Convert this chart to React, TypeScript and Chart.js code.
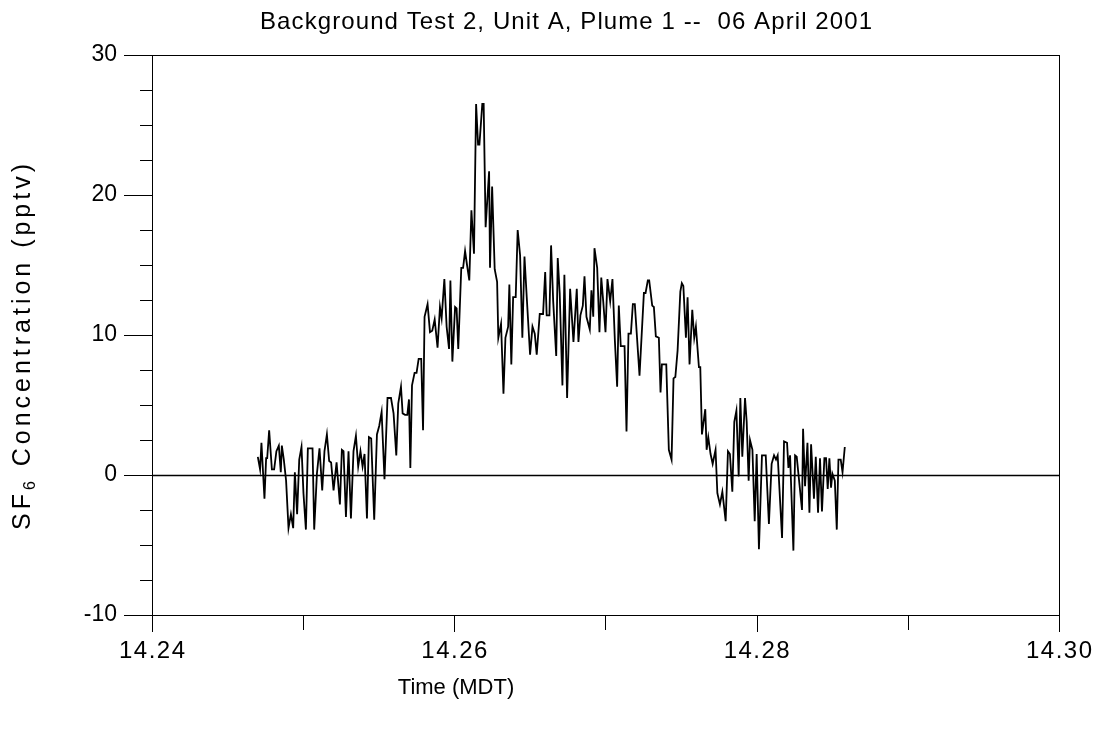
import React, { useEffect, useRef } from "react";
import { Chart, registerables } from "chart.js";

Chart.register(...registerables);

// Time of day (decimal hours, MDT)
const times: number[] = [
  14.24700, 14.24715, 14.24724, 14.24744, 14.24755, 14.24762, 14.24775, 14.24793, 14.24808, 14.24823,
  14.24839, 14.24852, 14.24859, 14.24872, 14.24887, 14.24903, 14.24919, 14.24934, 14.24945, 14.24960,
  14.24974, 14.24989, 14.25002, 14.25018, 14.25031, 14.25062, 14.25073, 14.25091, 14.25108, 14.25126,
  14.25141, 14.25157, 14.25172, 14.25185, 14.25201, 14.25221, 14.25243, 14.25256, 14.25267, 14.25283,
  14.25300, 14.25316, 14.25333, 14.25349, 14.25364, 14.25379, 14.25393, 14.25406, 14.25422, 14.25435,
  14.25450, 14.25470, 14.25488, 14.25503, 14.25519, 14.25538, 14.25558, 14.25581, 14.25598, 14.25616,
  14.25629, 14.25647, 14.25658, 14.25674, 14.25689, 14.25700, 14.25709, 14.25720, 14.25737, 14.25750,
  14.25764, 14.25781, 14.25793, 14.25803, 14.25823, 14.25839, 14.25854, 14.25870, 14.25889, 14.25905,
  14.25916, 14.25934, 14.25949, 14.25965, 14.25974, 14.25987, 14.26005, 14.26015, 14.26026, 14.26046,
  14.26058, 14.26071, 14.26084, 14.26099, 14.26113, 14.26130, 14.26144, 14.26157, 14.26166, 14.26185,
  14.26194, 14.26207, 14.26230, 14.26236, 14.26250, 14.26267, 14.26283, 14.26291, 14.26309, 14.26325,
  14.26338, 14.26356, 14.26364, 14.26377, 14.26389, 14.26406, 14.26419, 14.26435, 14.26450, 14.26464,
  14.26479, 14.26501, 14.26517, 14.26532, 14.26545, 14.26565, 14.26587, 14.26601, 14.26611, 14.26629,
  14.26640, 14.26654, 14.26674, 14.26684, 14.26697, 14.26715, 14.26728, 14.26746, 14.26766, 14.26788,
  14.26810, 14.26821, 14.26834, 14.26850, 14.26861, 14.26874, 14.26896, 14.26907, 14.26919, 14.26927,
  14.26945, 14.26960, 14.26972, 14.26985, 14.27000, 14.27013, 14.27031, 14.27046, 14.27062, 14.27077,
  14.27088, 14.27101, 14.27126, 14.27139, 14.27152, 14.27168, 14.27181, 14.27194, 14.27225, 14.27254,
  14.27265, 14.27280, 14.27289, 14.27309, 14.27320, 14.27333, 14.27353, 14.27364, 14.27373, 14.27402,
  14.27419, 14.27437, 14.27450, 14.27462, 14.27477, 14.27495, 14.27505, 14.27515, 14.27532, 14.27543,
  14.27556, 14.27574, 14.27587, 14.27598, 14.27618, 14.27627, 14.27638, 14.27660, 14.27669, 14.27680,
  14.27695, 14.27709, 14.27728, 14.27740, 14.27757, 14.27773, 14.27795, 14.27810, 14.27823, 14.27839,
  14.27852, 14.27866, 14.27881, 14.27892, 14.27905, 14.27923, 14.27934, 14.27947, 14.27956, 14.27972,
  14.27987, 14.28000, 14.28015, 14.28035, 14.28060, 14.28081, 14.28099, 14.28115, 14.28128, 14.28139,
  14.28168, 14.28181, 14.28201, 14.28210, 14.28221, 14.28243, 14.28254, 14.28265, 14.28300, 14.28307,
  14.28320, 14.28336, 14.28349, 14.28360, 14.28379, 14.28391, 14.28406, 14.28419, 14.28432, 14.28448,
  14.28459, 14.28470, 14.28481, 14.28492, 14.28501, 14.28517, 14.28530, 14.28541, 14.28556, 14.28568,
  14.28583,
];

// SF6 concentration (pptv)
const sf6: number[] = [
  1.3, 0.4, 2.3, -1.7, 1.2, 1.2, 3.2, 0.4, 0.4, 1.7,
  2.1, 0.2, 2.1, 1.1, -0.4, -3.8, -2.8, -3.8, 0.2, -2.8,
  1.1, 2.0, -1.3, -3.9, 1.9, 1.9, -3.9, 0.1, 1.9, -1.1,
  1.7, 2.9, 1.0, 0.9, -1.1, 0.9, -2.1, 1.8, 1.7, -3.0,
  1.7, -3.1, 1.7, 2.8, 0.6, 1.7, 0.6, 1.5, -3.1, 2.7,
  2.6, -3.2, 2.9, 3.5, 4.5, -0.3, 5.5, 5.5, 4.4, 1.4,
  5.1, 6.3, 4.4, 4.3, 4.3, 5.4, 0.5, 6.4, 7.3, 7.3,
  8.3, 8.3, 3.2, 11.3, 12.2, 10.2, 10.3, 11.1, 9.1, 12.0,
  11.2, 14.0, 10.6, 9.0, 13.9, 8.1, 12.0, 11.9, 9.0, 14.8,
  14.8, 16.0, 15.0, 13.9, 18.9, 15.8, 26.5, 23.6, 23.6, 26.5,
  26.5, 17.7, 21.7, 14.8, 20.6, 14.7, 13.8, 9.8, 10.8, 5.8,
  9.8, 10.6, 13.6, 7.9, 12.7, 12.7, 17.5, 15.7, 9.8, 15.6,
  12.7, 8.6, 10.6, 10.1, 8.6, 11.5, 11.5, 14.5, 11.4, 11.4,
  16.4, 12.4, 8.5, 15.5, 13.0, 6.4, 14.3, 5.5, 13.3, 9.5,
  13.3, 9.5, 11.4, 12.1, 14.2, 11.3, 10.4, 13.2, 11.3, 16.2,
  14.8, 10.2, 14.1, 12.4, 10.2, 14.0, 12.4, 14.0, 9.6, 6.3,
  12.1, 9.2, 9.2, 3.1, 10.1, 10.1, 12.2, 12.2, 7.1, 13.0,
  13.0, 13.9, 13.9, 12.1, 12.0, 9.9, 9.8, 5.9, 7.9, 7.9,
  1.8, 1.1, 6.9, 7.0, 8.9, 13.1, 13.7, 13.5, 9.8, 12.7,
  7.9, 11.8, 9.8, 10.6, 7.7, 7.7, 2.9, 4.7, 1.8, 2.7,
  1.5, 0.8, 1.8, -1.3, -2.1, -1.2, -3.3, 1.7, 1.5, -1.2,
  3.8, 4.6, -0.1, 5.5, 1.3, 5.5, 3.8, -0.4, 2.5, 1.8,
  -3.3, 1.5, -5.3, 1.4, 1.4, -3.5, 0.8, 1.4, 1.1, 1.4,
  -4.5, 2.4, 2.3, 0.5, 1.4, -5.4, 1.4, 1.3, -2.5, 3.3,
  -0.8, 2.3, -2.7, 2.2, -1.7, 1.3, -2.7, 1.2, -2.6, 1.2,
  1.2, -1.0, 1.2, -0.9, 0.1, -0.4, -3.9, 1.1, 1.1, 0.2,
  2.0,
];

const xMajorTicks: number[] = [14.24, 14.26, 14.28, 14.30];
const xMajorLabels: string[] = ["14.24", "14.26", "14.28", "14.30"];
const xMinorTicks: number[] = [14.25, 14.27, 14.29];
const yMajorTicks: number[] = [-10, 0, 10, 20, 30];
const yMajorLabels: string[] = ["-10", "0", "10", "20", "30"];
const yMinorTicks: number[] = [-7.5, -5, -2.5, 2.5, 5, 7.5, 12.5, 15, 17.5, 22.5, 25, 27.5];

const titleText = "Background Test 2, Unit A, Plume 1 --  06 April 2001";
const xTitle = "Time (MDT)";
const yTitleMain = "SF";
const yTitleSub = "6";
const yTitleRest = " Concentration (pptv)";

const FONT = "'Liberation Sans', Arial, sans-serif";

// draw text whose left edge is at x, spread to a given overall width
function drawSpread(ctx: CanvasRenderingContext2D, text: string, x: number, y: number, width: number) {
  const natural = ctx.measureText(text).width;
  const n = text.length;
  const s = n > 1 ? (width - natural) / (n - 1) : 0;
  (ctx as any).letterSpacing = `${s}px`;
  ctx.textAlign = "left";
  ctx.fillText(text, x, y);
  (ctx as any).letterSpacing = "0px";
}

const framePlugin = {
  id: "framePlugin",
  beforeDatasetsDraw(chart: any) {
    const ctx = chart.ctx;
    const y = chart.scales.y;
    const a = chart.chartArea;
    ctx.save();
    ctx.strokeStyle = "#000";
    ctx.lineWidth = 1.3;
    const zy = Math.round(y.getPixelForValue(0)) + 0.5;
    ctx.beginPath();
    ctx.moveTo(a.left, zy);
    ctx.lineTo(a.right, zy);
    ctx.stroke();
    ctx.restore();
  },
  afterDraw(chart: any) {
    const ctx: CanvasRenderingContext2D = chart.ctx;
    const xs = chart.scales.x;
    const ys = chart.scales.y;
    const a = chart.chartArea;
    ctx.save();
    ctx.strokeStyle = "#000";
    ctx.fillStyle = "#000";
    ctx.lineWidth = 1;
    ctx.strokeRect(Math.round(a.left) + 0.5, Math.round(a.top) + 0.5, Math.round(a.right - a.left), Math.round(a.bottom - a.top));
    const yMajLen = 28;
    const yMinLen = 12;
    ctx.beginPath();
    yMajorTicks.forEach((v) => {
      const p = Math.round(ys.getPixelForValue(v)) + 0.5;
      ctx.moveTo(a.left - yMajLen, p);
      ctx.lineTo(a.left, p);
    });
    yMinorTicks.forEach((v) => {
      const p = Math.round(ys.getPixelForValue(v)) + 0.5;
      ctx.moveTo(a.left - yMinLen, p);
      ctx.lineTo(a.left, p);
    });
    const xMajLen = 17;
    const xMinLen = 15;
    xMajorTicks.forEach((v) => {
      const p = Math.round(xs.getPixelForValue(v)) + 0.5;
      ctx.moveTo(p, a.bottom);
      ctx.lineTo(p, a.bottom + xMajLen);
    });
    xMinorTicks.forEach((v) => {
      const p = Math.round(xs.getPixelForValue(v)) + 0.5;
      ctx.moveTo(p, a.bottom);
      ctx.lineTo(p, a.bottom + xMinLen);
    });
    ctx.stroke();

    ctx.textBaseline = "middle";
    // y tick labels
    ctx.font = `23px ${FONT}`;
    ctx.textAlign = "right";
    yMajorTicks.forEach((v, i) => {
      ctx.fillText(yMajorLabels[i], 117, ys.getPixelForValue(v));
    });
    // x tick labels
    ctx.font = `24px ${FONT}`;
    const xLabW = 66;
    xMajorTicks.forEach((v, i) => {
      const cx = xs.getPixelForValue(v);
      drawSpread(ctx, xMajorLabels[i], cx - xLabW / 2, 651, xLabW);
    });

    // title
    ctx.font = `24px ${FONT}`;
    const titleW = 612;
    drawSpread(ctx, titleText, 566 - titleW / 2, 22, titleW);
    // x-axis title
    ctx.font = `22px ${FONT}`;
    ctx.textAlign = "center";
    ctx.fillText(xTitle, 456, 688);

    // y title with subscript, spread along its length
    ctx.save();
    ctx.translate(23, 347);
    ctx.rotate(-Math.PI / 2);
    ctx.textAlign = "left";
    ctx.font = `25px ${FONT}`;
    const wMain = ctx.measureText(yTitleMain).width;
    const wRest = ctx.measureText(yTitleRest).width;
    ctx.font = `16px ${FONT}`;
    const wSub = ctx.measureText(yTitleSub).width;
    const nChars = yTitleMain.length + yTitleSub.length + yTitleRest.length;
    const targetLen = 366;
    const sp = (targetLen - (wMain + wSub + wRest)) / (nChars - 1);
    let x0 = -targetLen / 2;
    (ctx as any).letterSpacing = `${sp}px`;
    ctx.font = `25px ${FONT}`;
    ctx.fillText(yTitleMain, x0, 0);
    x0 += wMain + sp * yTitleMain.length;
    ctx.font = `16px ${FONT}`;
    ctx.fillText(yTitleSub, x0, 8);
    x0 += wSub + sp * yTitleSub.length;
    ctx.font = `25px ${FONT}`;
    ctx.fillText(yTitleRest, x0, 0);
    (ctx as any).letterSpacing = "0px";
    ctx.restore();

    ctx.restore();
  },
};

export default function App() {
  const ref = useRef<HTMLCanvasElement | null>(null);
  useEffect(() => {
    if (!ref.current) return;
    const points = times.map((t, i) => ({ x: t, y: sf6[i] }));
    const chart = new Chart(ref.current, {
      type: "line",
      data: {
        datasets: [
          {
            data: points,
            borderColor: "#000",
            borderWidth: 1.8,
            pointRadius: 0,
            tension: 0,
            fill: false,
          },
        ],
      },
      options: {
        responsive: false,
        animation: false,
        events: [],
        layout: { padding: { left: 152, top: 55, right: 37, bottom: 114 } },
        plugins: { legend: { display: false }, tooltip: { enabled: false }, title: { display: false } },
        scales: {
          x: { type: "linear", min: 14.24, max: 14.3, display: false },
          y: { type: "linear", min: -10, max: 30, display: false },
        },
      },
      plugins: [framePlugin],
    });
    return () => chart.destroy();
  }, []);
  return (
    <div style={{ position: "fixed", left: 0, top: 0, width: 1096, height: 729, background: "#fff" }}>
      <canvas ref={ref} width={1096} height={729} style={{ width: 1096, height: 729, display: "block" }} />
    </div>
  );
}
